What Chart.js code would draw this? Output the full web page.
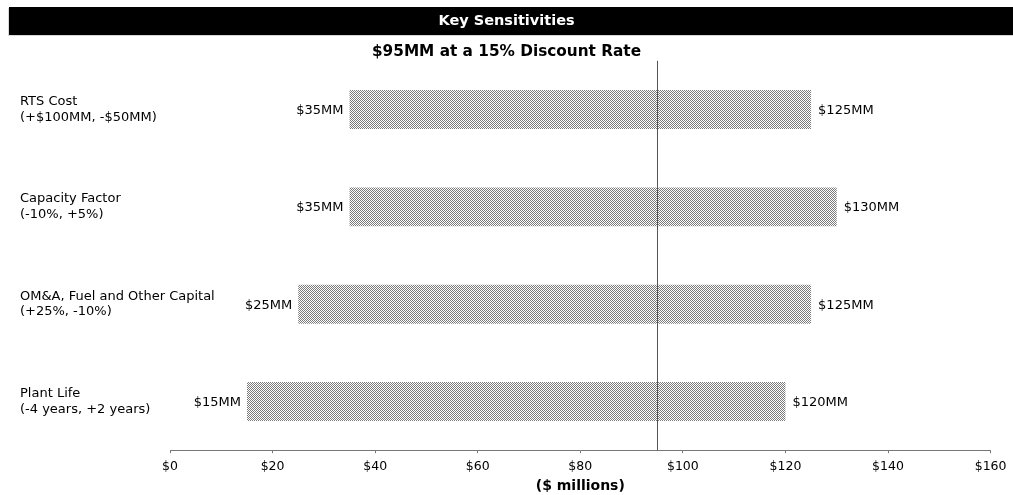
<!DOCTYPE html>
<html>
<head>
<meta charset="utf-8">
<script src="https://cdn.jsdelivr.net/npm/chart.js@4/dist/chart.umd.min.js"></script>
<style>
	body { margin: 0; background: #fff; }
	canvas { display: block; }
</style>
</head>
<body>
<canvas id="myChart" width="1013" height="495"></canvas>
<script>
	// tornado chart data
	const categories = [
		['RTS Cost', '(+$100MM, -$50MM)'],
		['Capacity Factor', '(-10%, +5%)'],
		['OM&A, Fuel and Other Capital', '(+25%, -10%)'],
		['Plant Life', '(-4 years, +2 years)']
	];
	const lowValues = [35, 35, 25, 15];
	const highValues = [125, 130, 125, 120];
	const baseCase = 95;
	const xTicks = [0, 20, 40, 60, 80, 100, 120, 140, 160];

	const FONT = "'DejaVu Sans', Verdana, sans-serif";

	// dotted fill like the original
	const makePattern = () => {
		const c = document.createElement('canvas');
		c.width = 2;
		c.height = 2;
		const p = c.getContext('2d');
		p.fillStyle = '#ffffff';
		p.fillRect(0, 0, 2, 2);
		p.fillStyle = '#7a7a7a';
		p.fillRect(0, 0, 1, 1);
		p.fillRect(1, 1, 1, 1);
		return p.createPattern(c, 'repeat');
	};

	const titleBarPlugin = {
		id: 'titleBar',
		beforeDraw(chart) {
			const t = chart.titleBlock;
			const ctx = chart.ctx;
			ctx.save();
			ctx.fillStyle = '#d9d9d9';
			ctx.fillRect(8, t.top + 1, chart.width - 8, t.height);
			ctx.fillStyle = '#000000';
			ctx.fillRect(9, t.top, chart.width - 9, t.height);
			ctx.restore();
		}
	};

	const markersPlugin = {
		id: 'markers',
		afterDatasetsDraw(chart) {
			const ctx = chart.ctx;
			const x = chart.scales.x;
			const y = chart.scales.y;
			const area = chart.chartArea;
			ctx.save();
			// base case line
			const bx = Math.round(x.getPixelForValue(baseCase)) + 0.5;
			ctx.strokeStyle = '#555555';
			ctx.lineWidth = 1;
			ctx.beginPath();
			ctx.moveTo(bx, area.top);
			ctx.lineTo(bx, area.bottom);
			ctx.stroke();
			// value labels
			ctx.font = '13px ' + FONT;
			ctx.fillStyle = '#000000';
			ctx.textBaseline = 'middle';
			categories.forEach((c, i) => {
				const cy = y.getPixelForValue(i) + 1;
				ctx.textAlign = 'right';
				ctx.fillText('$' + lowValues[i] + 'MM', x.getPixelForValue(lowValues[i]) - 6, cy);
				ctx.textAlign = 'left';
				ctx.fillText('$' + highValues[i] + 'MM', x.getPixelForValue(highValues[i]) + 7, cy);
			});
			ctx.restore();
		}
	};

	var ctx = document.getElementById('myChart').getContext('2d');
	var myChart = new Chart(ctx, {
		type: 'bar',
		data: {
			labels: categories,
			datasets: [{
				data: lowValues.map((v, i) => [v, highValues[i]]),
				backgroundColor: makePattern(),
				borderWidth: 0,
				barPercentage: 0.4,
				categoryPercentage: 1.0
			}]
		},
		options: {
			indexAxis: 'y',
			responsive: false,
			animation: false,
			layout: {
				padding: { top: 7, left: 20, right: 20, bottom: 0 }
			},
			plugins: {
				legend: { display: false },
				tooltip: { enabled: false },
				title: {
					display: true,
					text: 'Key Sensitivities',
					color: '#ffffff',
					font: { family: FONT, size: 14.5, weight: 'bold' },
					padding: { top: 5.3, bottom: 5.3 }
				},
				subtitle: {
					display: true,
					text: '$95MM at a 15% Discount Rate',
					color: '#000000',
					font: { family: FONT, size: 15.3, weight: 'bold' },
					padding: { top: 7.5, bottom: 0 }
				}
			},
			scales: {
				x: {
					min: 0,
					max: 160,
					afterBuildTicks(scale) {
						scale.ticks = xTicks.map(v => ({ value: v }));
					},
					grid: {
						drawOnChartArea: false,
						drawTicks: true,
						tickLength: 3,
						color: '#777777'
					},
					border: { display: true, color: '#777777' },
					ticks: {
						color: '#000000',
						padding: 6.5,
						maxRotation: 0,
						font: { family: FONT, size: 12.5 },
						callback: v => '$' + v
					},
					title: {
						display: true,
						text: '($ millions)',
						color: '#000000',
						font: { family: FONT, size: 14, weight: 'bold' },
						padding: { top: -3, bottom: 0 }
					}
				},
				y: {
					grid: { display: false },
					border: { display: false },
					afterFit(scale) {
						scale.width = 150;
					},
					ticks: {
						mirror: true,
						padding: -150,
						crossAlign: 'near',
						color: '#000000',
						font: { family: FONT, size: 13 }
					}
				}
			}
		},
		plugins: [titleBarPlugin, markersPlugin]
	});
</script>
</body>
</html>
